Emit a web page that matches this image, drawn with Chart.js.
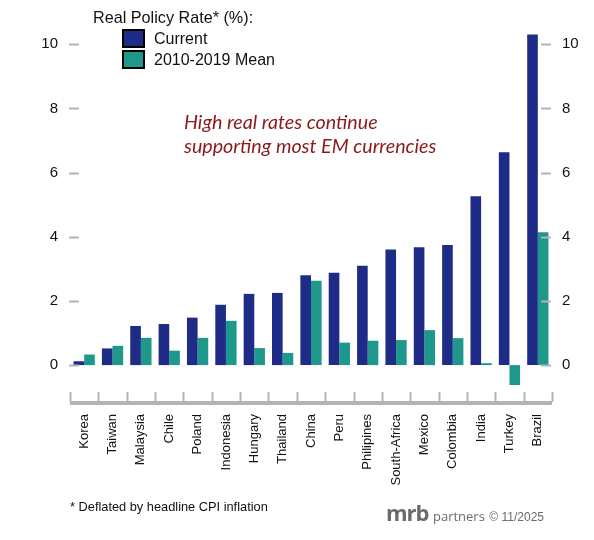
<!DOCTYPE html>
<html>
<head>
<meta charset="utf-8">
<script src="https://cdn.jsdelivr.net/npm/chart.js@4.4.1/dist/chart.umd.min.js"></script>
<style>
    html, body { margin: 0; padding: 0; background: #fff; }
    #wrap { position: relative; width: 594px; height: 540px; font-family: "Liberation Sans", Arial, sans-serif; }
    #chart { position: absolute; left: 0; top: 0; }
    .legend-title { position: absolute; left: 93px; top: 8px; font-size: 16.2px; color: #111; }
    .legend-item { position: absolute; left: 122px; font-size: 16px; color: #111; display: flex; align-items: center; }
    .legend-item span.box { width: 19px; height: 15px; border: 2px solid #000; margin-right: 9px; display: inline-block; }
    .note { position: absolute; left: 184px; top: 110px; font-family: Lato, "Open Sans", sans-serif; font-style: italic; font-size: 19.7px; line-height: 24px; color: #8b1a1a; }
    .foot { position: absolute; left: 70px; top: 499px; font-size: 12.8px; color: #111; }
    .logo { position: absolute; left: 386px; top: 497px; color: #6b6b6b; white-space: nowrap; }
    .logo b { font-family: "Open Sans", sans-serif; font-size: 22px; font-weight: 700; letter-spacing: -1px; }
    .logo .p { font-family: "Open Sans", sans-serif; font-size: 13px; }
    .logo .c { font-family: "Liberation Sans", sans-serif; font-size: 12px; }
</style>
</head>
<body>
<div id="wrap">
    <canvas id="chart" width="594" height="540"></canvas>
    <div class="legend-title">Real Policy Rate* (%):</div>
    <div class="legend-item" style="top:29px"><span class="box" id="box-cur"></span>Current</div>
    <div class="legend-item" style="top:50px"><span class="box" id="box-mean"></span>2010-2019 Mean</div>
    <div class="note">High real rates continue<br>supporting most EM currencies</div>
    <div class="foot">* Deflated by headline CPI inflation</div>
    <div class="logo"><b>mrb</b> <span class="p">partners</span> <span class="c">© 11/2025</span></div>
</div>
<script>
// datos
const countries = ['Korea', 'Taiwan', 'Malaysia', 'Chile', 'Poland', 'Indonesia', 'Hungary', 'Thailand',
    'China', 'Peru', 'Philipines', 'South-Africa', 'Mexico', 'Colombia', 'India', 'Turkey', 'Brazil'];
const currentRate = [0.12, 0.52, 1.22, 1.28, 1.48, 1.88, 2.22, 2.25, 2.80, 2.88, 3.10, 3.60, 3.67, 3.74, 5.26, 6.63, 10.30];
const meanRate = [0.33, 0.60, 0.85, 0.45, 0.85, 1.38, 0.53, 0.38, 2.63, 0.70, 0.76, 0.78, 1.09, 0.84, 0.06, -0.62, 4.14];
const yTicks = [0, 2, 4, 6, 8, 10];

const colorCurrent = '#1e2c88';
const colorMean = '#1f988c';

document.getElementById('box-cur').style.background = colorCurrent;
document.getElementById('box-mean').style.background = colorMean;

// marcas cortas en los ejes (dentro del area)
const tickMarks = {
    id: 'tickMarks',
    afterDraw(chart) {
        const { ctx, chartArea } = chart;
        const y = chart.scales.y;
        const x = chart.scales.x;
        ctx.save();
        ctx.strokeStyle = '#b4b4b8';
        ctx.lineWidth = 2;
        yTicks.forEach(v => {
            const py = Math.round(y.getPixelForValue(v)) + 0.5;
            ctx.beginPath();
            ctx.moveTo(chartArea.left - 1, py);
            ctx.lineTo(chartArea.left + 9, py);
            ctx.moveTo(chartArea.right - 11, py);
            ctx.lineTo(chartArea.right - 1, py);
            ctx.stroke();
        });
        // eje x grueso con marcas hacia arriba
        const base = chartArea.bottom;
        const half = (x.getPixelForValue(1) - x.getPixelForValue(0)) / 2;
        for (let i = 0; i <= countries.length; i++) {
            const px = Math.round(x.getPixelForValue(i) - half) + 0.5;
            ctx.beginPath();
            ctx.moveTo(px, base - 10);
            ctx.lineTo(px, base);
            ctx.stroke();
        }
        ctx.lineWidth = 4;
        ctx.beginPath();
        ctx.moveTo(chartArea.left, base + 1);
        ctx.lineTo(chartArea.right, base + 1);
        ctx.stroke();
        ctx.restore();
    }
};

const tickFont = { family: '"Liberation Sans", Arial, sans-serif', size: 15 };

new Chart(document.getElementById('chart'), {
    type: 'bar',
    data: {
        labels: countries,
        datasets: [
            { label: 'Current', data: currentRate, backgroundColor: colorCurrent, borderWidth: 0 },
            { label: '2010-2019 Mean', data: meanRate, backgroundColor: colorMean, borderWidth: 0 }
        ]
    },
    options: {
        responsive: false,
        animation: false,
        devicePixelRatio: 1,
        layout: { padding: { top: 33, left: 0, right: 0, bottom: 0 } },
        plugins: { legend: { display: false }, tooltip: { enabled: false } },
        datasets: { bar: { categoryPercentage: 0.75, barPercentage: 1.0 } },
        scales: {
            x: {
                grid: { display: false, drawTicks: false },
                border: { display: false },
                afterFit: s => { s.height = 138; },
                ticks: {
                    color: '#111', font: { family: '"Liberation Sans", Arial, sans-serif', size: 13 },
                    maxRotation: 90, minRotation: 90, padding: 12, autoSkip: false
                }
            },
            y: {
                position: 'left',
                min: -1.15, max: 10.35,
                afterBuildTicks: s => { s.ticks = yTicks.map(v => ({ value: v })); },
                afterFit: s => { s.width = 70; },
                grid: { display: false, drawTicks: false },
                border: { display: false },
                ticks: { color: '#111', font: tickFont, padding: 12 }
            },
            y2: {
                position: 'right',
                min: -1.15, max: 10.35,
                afterBuildTicks: s => { s.ticks = yTicks.map(v => ({ value: v })); },
                afterFit: s => { s.width = 42; },
                grid: { display: false, drawTicks: false },
                border: { display: false },
                ticks: { color: '#111', font: tickFont, padding: 10 }
            }
        }
    },
    plugins: [tickMarks]
});
</script>
</body>
</html>
